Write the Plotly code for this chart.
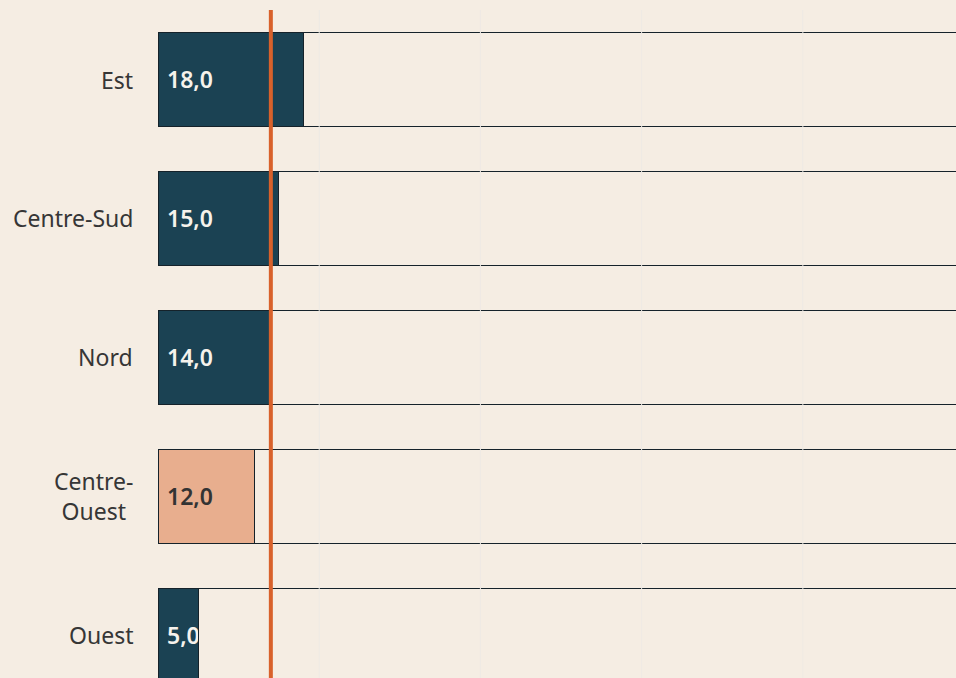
import plotly.graph_objects as go

# ---- data ----
categories = ["Est", "Centre-Sud", "Nord", "Centre-Ouest", "Ouest"]
category_labels = ["Est", "Centre-Sud", "Nord", "Centre-<br>Ouest", "Ouest"]
values = [18.0, 15.0, 14.0, 12.0, 5.0]
highlight = [False, False, False, True, False]
scale_total = 100.0
reference_value = 14.0
grid_ticks = [0, 20, 40, 60, 80, 100]

# ---- styles ----
BG = "#F5EDE3"
DARK = "#1B4253"
PEACH = "#E8AE8E"
ORANGE = "#D8612B"
OUTLINE = "#15222A"
LABEL = "#363636"
GRID = "#EFEAE4"
FONT = "Noto Sans, Open Sans, sans-serif"

bar_colors = [PEACH if h else DARK for h in highlight]
text_colors = ["#333333" if h else "#F6F2EC" for h in highlight]
remainder = [scale_total - v for v in values]

fig = go.Figure()
fig.add_trace(go.Bar(
    y=categories, x=values, orientation="h",
    marker=dict(color=bar_colors, line=dict(color=OUTLINE, width=1)),
    texttemplate="\u00a0%{x:.1f}",
    textposition="inside", insidetextanchor="start",
    constraintext="none", textangle=0,
    textfont=dict(family=FONT, size=23, color=text_colors, weight=600),
    hoverinfo="skip", showlegend=False,
))
fig.add_trace(go.Bar(
    y=categories, x=remainder, orientation="h",
    marker=dict(color=BG, line=dict(color=OUTLINE, width=1)),
    hoverinfo="skip", showlegend=False,
))

shapes = []
for t in grid_ticks[1:]:
    shapes.append(dict(type="line", xref="x", yref="paper", x0=t, x1=t, y0=0, y1=1,
                       line=dict(color=GRID, width=1), layer="above"))
shapes.append(dict(type="line", xref="x", yref="paper", x0=reference_value, x1=reference_value,
                   y0=0, y1=1, line=dict(color=ORANGE, width=4), layer="above"))

annotations = []
for c, lab in zip(categories, category_labels):
    annotations.append(dict(x=0, y=c, xref="x", yref="y", text=lab, showarrow=False,
                            xanchor="right", yanchor="middle", align="center", xshift=-23,
                            font=dict(family=FONT, size=23, color=LABEL)))

fig.update_layout(
    width=956, height=678,
    margin=dict(l=158, r=0, t=10, b=0),
    paper_bgcolor=BG, plot_bgcolor=BG,
    barmode="stack", bargap=0.33,
    separators=", ",
    shapes=shapes, annotations=annotations,
    xaxis=dict(range=[0, 99.0], showgrid=True, gridcolor=GRID, tickvals=grid_ticks,
               showticklabels=False, zeroline=False, showline=False, fixedrange=True),
    yaxis=dict(type="category", categoryorder="array", categoryarray=categories,
               range=[4.306, -0.5], showticklabels=False, showgrid=False,
               zeroline=False, showline=False, fixedrange=True),
    font=dict(family=FONT, color=LABEL),
)

fig.write_html(
    "out.html",
    config={"displayModeBar": False},
    post_script="document.body.style.margin='0';document.body.style.overflow='hidden';"
                "document.body.style.background='" + BG + "';",
)
